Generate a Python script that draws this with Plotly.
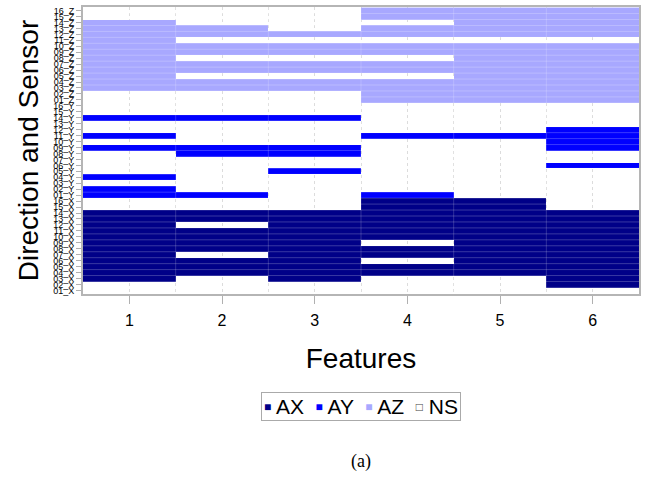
import plotly.graph_objects as go
import numpy as np

features = [1, 2, 3, 4, 5, 6]
sensors = list(range(1, 17))
directions = ["X", "Y", "Z"]
categories = ["AX", "AY", "AZ", "NS"]
cat_colors = ["#000088", "#0000FF", "#A8A8FF", "#FFFFFF"]

# sensors flagged per feature (X -> AX, Y -> AY, Z -> AZ); others NS
f1_x = [3, 4, 5, 6, 7, 8, 9, 10, 11, 12, 13, 14]
f1_y = [1, 2, 4, 9, 11, 14]
f1_z = [3, 4, 5, 6, 7, 8, 9, 10, 11, 12, 13, 14]
f2_x = [4, 5, 6, 8, 9, 10, 11, 13, 14]
f2_y = [1, 8, 9, 14]
f2_z = [3, 4, 6, 7, 9, 10, 12, 13]
f3_x = [3, 4, 5, 6, 7, 8, 9, 10, 11, 12, 13, 14]
f3_y = [5, 8, 9, 14]
f3_z = [3, 4, 6, 7, 9, 10, 12]
f4_x = [4, 5, 7, 8, 10, 11, 12, 13, 14, 15, 16]
f4_y = [1, 11]
f4_z = [1, 2, 3, 4, 6, 7, 9, 10, 12, 13, 15, 16]
f5_x = [4, 5, 6, 7, 8, 9, 10, 11, 12, 13, 14, 15, 16]
f5_y = [11]
f5_z = [1, 2, 3, 4, 5, 6, 7, 8, 9, 10, 12, 13, 14, 15, 16]
f6_x = [2, 3, 4, 5, 6, 7, 8, 9, 10, 11, 12, 13, 14]
f6_y = [6, 9, 10, 11, 12]
f6_z = [1, 2, 3, 4, 5, 6, 7, 8, 9, 10, 12, 13, 14, 15, 16]

feature_sets = [
    (f1_x, f1_y, f1_z), (f2_x, f2_y, f2_z), (f3_x, f3_y, f3_z),
    (f4_x, f4_y, f4_z), (f5_x, f5_y, f5_z), (f6_x, f6_y, f6_z),
]

row_labels = [f"{s:02d}_{d}" for d in directions for s in sensors]
n_rows = len(row_labels)

z = np.full((n_rows, len(features)), np.nan)
for j, sets in enumerate(feature_sets):
    for di, lst in enumerate(sets):
        for s in lst:
            z[di * 16 + (s - 1), j] = di

colorscale = [
    [0.0, cat_colors[0]], [1 / 3, cat_colors[0]],
    [1 / 3, cat_colors[1]], [2 / 3, cat_colors[1]],
    [2 / 3, cat_colors[2]], [1.0, cat_colors[2]],
]

fig = go.Figure()
fig.add_trace(go.Heatmap(
    x=features, y=list(range(n_rows)), z=z,
    zmin=-0.5, zmax=2.5, colorscale=colorscale,
    showscale=False, hoverongaps=False,
))

shapes = []
for k in range(n_rows - 1):
    shapes.append(dict(type="line", xref="paper", x0=0, x1=1, y0=k + 0.5, y1=k + 0.5,
                       yref="y", line=dict(color="rgba(255,255,255,0.22)", width=1), layer="above"))
for k in range(1, len(features)):
    shapes.append(dict(type="line", yref="paper", y0=0, y1=1, x0=k + 0.5, x1=k + 0.5,
                       xref="x", line=dict(color="rgba(255,255,255,0.18)", width=1), layer="above"))

# legend drawn as a bordered text box (compact, like the reference)
legend_parts = []
for name, col in zip(categories, cat_colors):
    if col.upper() == "#FFFFFF":
        sym = "<span style='font-size:12px;color:#444444;baseline-shift:3px'>□</span>"
    else:
        sym = f"<span style='font-size:12px;color:{col};baseline-shift:3px'>■</span>"
    legend_parts.append(f"{sym} {name}")
legend_text = "  ".join(legend_parts)

fig.update_layout(
    width=646, height=479,
    margin=dict(l=83, r=5, t=5, b=185),
    paper_bgcolor="white", plot_bgcolor="white",
    font=dict(family="Liberation Sans, Arial, sans-serif", color="black"),
    shapes=shapes,
    showlegend=False,
    annotations=[
        dict(
            text=legend_text, x=0.5, y=-0.391, xref="paper", yref="paper",
            xanchor="center", yanchor="middle", showarrow=False,
            font=dict(size=21), bordercolor="#aaaaaa", borderwidth=1, borderpad=2,
        ),
        dict(
            text="(a)", x=0.5, y=-0.627, xref="paper", yref="paper",
            showarrow=False, font=dict(family="Liberation Serif, Times New Roman, serif", size=18),
        ),
    ],
)

fig.update_xaxes(
    range=[0.5, 6.5], tickvals=features, ticktext=[str(f) for f in features],
    tickfont=dict(size=16), ticks="outside", ticklen=8, tickcolor="#b0b0b0",
    ticklabelstandoff=3,
    showgrid=True, gridcolor="#dcdcdc", griddash="dot", gridwidth=1,
    minor=dict(tick0=0.5, dtick=1, showgrid=True, gridcolor="#dcdcdc", griddash="dot"),
    showline=True, linecolor="#b5b5b5", linewidth=2, mirror=True, zeroline=False,
    title=dict(text="Features", font=dict(size=28), standoff=20),
)
fig.update_yaxes(
    range=[-0.6, n_rows - 0.4], tickmode="array",
    tickvals=list(range(n_rows)), ticktext=row_labels,
    tickfont=dict(size=9), ticks="outside", ticklen=5, tickcolor="#b0b0b0",
    showgrid=False, zeroline=False,
    showline=True, linecolor="#b5b5b5", linewidth=2, mirror=True,
    title=dict(text="Direction and Sensor", font=dict(size=28), standoff=6),
)

fig.write_html("out.html")
